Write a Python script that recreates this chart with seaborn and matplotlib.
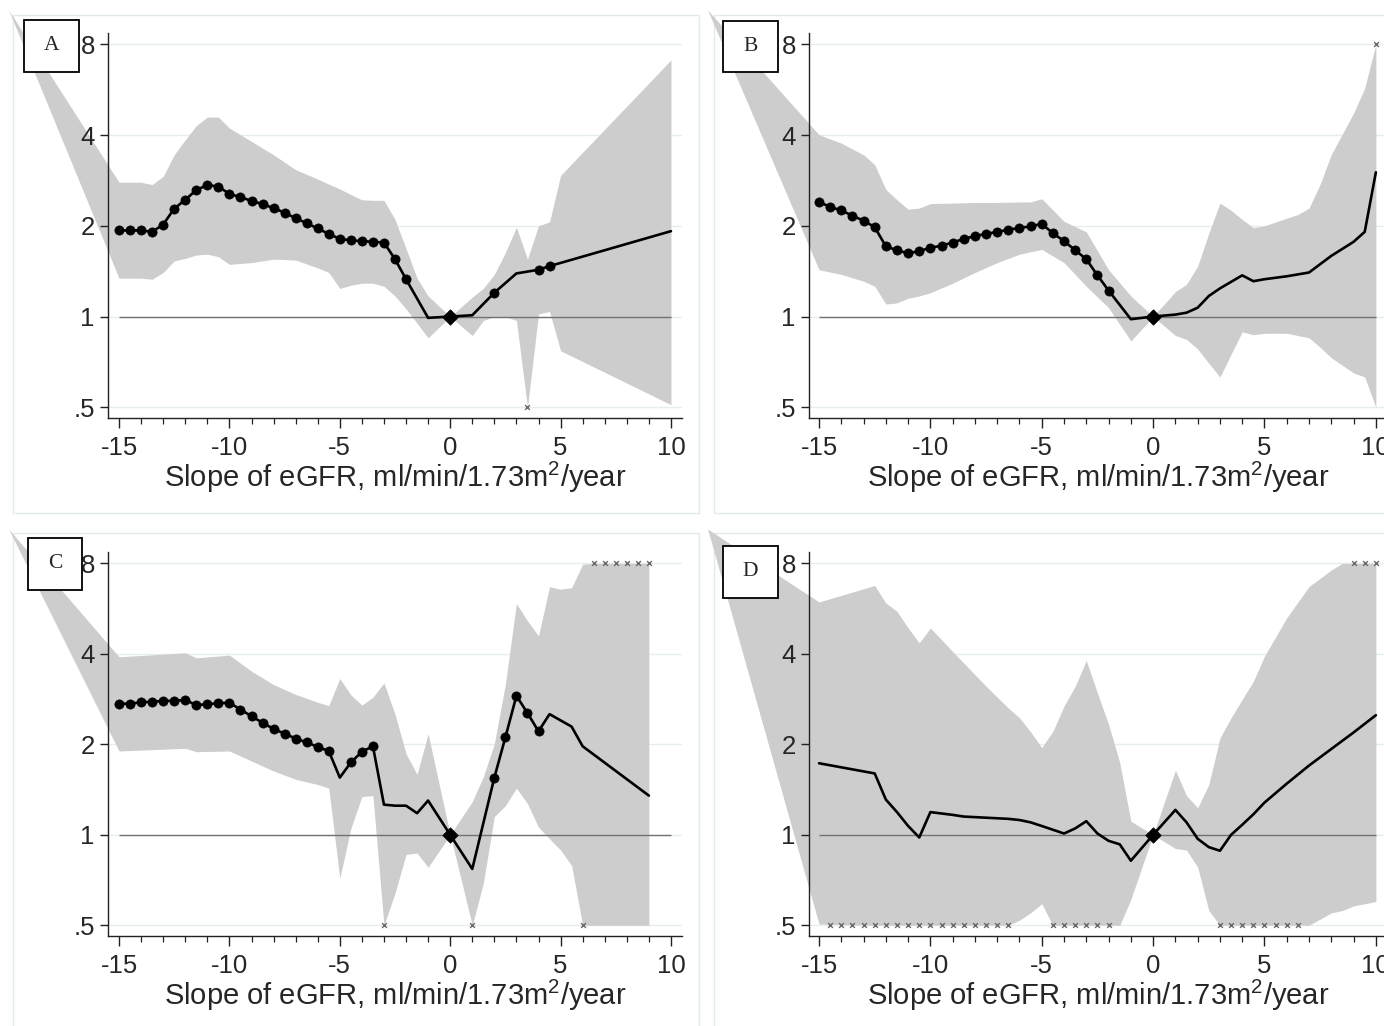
import matplotlib
matplotlib.use('Agg')
import matplotlib.pyplot as plt
import seaborn as sns
from matplotlib.patches import Rectangle
from matplotlib.ticker import FixedLocator, NullLocator, MultipleLocator

# ---------------- data ----------------
panel_labels = ['A', 'B', 'C', 'D']
x_ticks = [-15, -10, -5, 0, 5, 10]
x_ticklabels = ['-15', '-10', '-5', '0', '5', '10']
y_ticks = [0.5, 1, 2, 4, 8]
y_ticklabels = ['.5', '1', '2', '4', '8']
x_label = 'Slope of eGFR, ml/min/1.73m$^2$/year'
ref_x = 0.0
ref_y = 1.0

# Panel A
A_line_x = [-15, -14.5, -14, -13.5, -13, -12.5, -12, -11.5, -11, -10.5, -10, -9.5, -9, -8.5,
            -8, -7.5, -7, -6.5, -6, -5.5, -5, -4.5, -4, -3.5, -3, -2.5, -2,
            -1, 0, 1, 2, 3, 4, 4.5, 10]
A_line_y = [1.93, 1.93, 1.93, 1.91, 2.02, 2.28, 2.44, 2.63, 2.73, 2.70, 2.55, 2.49, 2.42, 2.36,
            2.29, 2.21, 2.12, 2.04, 1.96, 1.88, 1.81, 1.79, 1.78, 1.77, 1.76, 1.55, 1.33,
            0.99, 1.00, 1.01, 1.20, 1.39, 1.43, 1.47, 1.92]
A_dot_x = [-15, -14.5, -14, -13.5, -13, -12.5, -12, -11.5, -11, -10.5, -10, -9.5, -9, -8.5,
           -8, -7.5, -7, -6.5, -6, -5.5, -5, -4.5, -4, -3.5, -3, -2.5, -2, 2, 4, 4.5]
A_ci_x = [-20, -15, -14, -13.5, -13, -12.5, -12, -11.5, -11, -10.5, -10, -9, -8, -7, -6, -5.5,
          -5, -4.5, -4, -3.5, -3, -2.5, -2, -1.5, -1, 0, 1, 1.5, 2, 2.5, 3, 3.5, 4, 4.5, 5, 10]
A_ci_hi = [10.4, 2.79, 2.79, 2.74, 2.92, 3.44, 3.86, 4.30, 4.59, 4.59, 4.22, 3.81, 3.44, 3.07, 2.86, 2.75,
           2.65, 2.54, 2.44, 2.43, 2.43, 2.10, 1.68, 1.34, 1.17, 1.00, 1.16, 1.24, 1.38, 1.63, 1.98, 1.55,
           2.00, 2.06, 2.94, 7.10]
A_ci_lo = [10.4, 1.34, 1.34, 1.33, 1.40, 1.53, 1.56, 1.60, 1.61, 1.58, 1.49, 1.51, 1.55, 1.54, 1.45, 1.40,
           1.24, 1.27, 1.29, 1.29, 1.26, 1.17, 1.06, 0.95, 0.85, 1.00, 0.865, 0.97, 1.00, 1.00, 0.97, 0.50,
           1.02, 1.04, 0.77, 0.51]
A_cap_x = [3.5]
A_cap_y = [0.5]

# Panel B
B_line_x = [-15, -14.5, -14, -13.5, -13, -12.5, -12, -11.5, -11, -10.5, -10, -9.5, -9, -8.5,
            -8, -7.5, -7, -6.5, -6, -5.5, -5, -4.5, -4, -3.5, -3, -2.5, -2,
            -1, 0, 1, 1.5, 2, 2.5, 3, 4, 4.5, 5, 6, 7, 8, 9, 9.5, 10]
B_line_y = [2.40, 2.31, 2.25, 2.16, 2.08, 1.98, 1.71, 1.66, 1.62, 1.65, 1.69, 1.72, 1.76, 1.81,
            1.85, 1.88, 1.91, 1.94, 1.97, 1.99, 2.03, 1.89, 1.78, 1.66, 1.55, 1.37, 1.22,
            0.98, 1.00, 1.015, 1.03, 1.07, 1.17, 1.24, 1.37, 1.31, 1.33, 1.36, 1.40, 1.59, 1.77, 1.91, 3.01]
B_dot_x = [-15, -14.5, -14, -13.5, -13, -12.5, -12, -11.5, -11, -10.5, -10, -9.5, -9, -8.5,
           -8, -7.5, -7, -6.5, -6, -5.5, -5, -4.5, -4, -3.5, -3, -2.5, -2]
B_ci_x = [-20, -15, -14, -13, -12.5, -12, -11.5, -11, -10.5, -10, -9, -8, -7, -6, -5.5, -5, -4, -3,
          -2, -1, 0, 1, 1.5, 2, 2.5, 3, 3.5, 4, 4.5, 5, 6, 6.5, 7, 7.5, 8, 9, 9.5, 10]
B_ci_hi = [10.4, 4.01, 3.76, 3.44, 3.19, 2.64, 2.44, 2.27, 2.29, 2.37, 2.38, 2.39, 2.39, 2.40, 2.40, 2.46, 2.07, 1.91,
           1.43, 1.17, 1.00, 1.21, 1.28, 1.47, 1.89, 2.38, 2.25, 2.10, 1.97, 2.00, 2.12, 2.18, 2.29, 2.75, 3.45, 4.73, 5.73, 8.0]
B_ci_lo = [10.4, 1.43, 1.38, 1.31, 1.26, 1.10, 1.11, 1.15, 1.17, 1.20, 1.29, 1.40, 1.51, 1.61, 1.64, 1.67, 1.51, 1.26,
           1.07, 0.83, 1.00, 0.865, 0.84, 0.78, 0.70, 0.63, 0.75, 0.89, 0.87, 0.88, 0.88, 0.865, 0.85, 0.79, 0.73, 0.65, 0.63, 0.50]
B_cap_x = [10]
B_cap_y = [8]

# Panel C
C_line_x = [-15, -14.5, -14, -13.5, -13, -12.5, -12, -11.5, -11, -10.5, -10, -9.5, -9, -8.5,
            -8, -7.5, -7, -6.5, -6, -5.5, -5, -4.5, -4, -3.5, -3, -2.5, -2, -1.5, -1,
            0, 1, 2, 2.5, 3, 3.5, 4, 4.5, 5.5, 6, 9]
C_line_y = [2.73, 2.73, 2.76, 2.77, 2.79, 2.79, 2.81, 2.70, 2.72, 2.74, 2.75, 2.61, 2.48, 2.36,
            2.25, 2.17, 2.09, 2.03, 1.96, 1.90, 1.55, 1.74, 1.89, 1.97, 1.26, 1.25, 1.25, 1.18, 1.30,
            1.00, 0.77, 1.55, 2.11, 2.90, 2.54, 2.21, 2.52, 2.29, 1.97, 1.35]
C_dot_x = [-15, -14.5, -14, -13.5, -13, -12.5, -12, -11.5, -11, -10.5, -10, -9.5, -9, -8.5,
           -8, -7.5, -7, -6.5, -6, -5.5, -4.5, -4, -3.5, 2, 2.5, 3, 3.5, 4]
C_ci_x = [-20, -15, -12, -11.5, -10, -9, -8, -7, -6, -5.5, -5, -4.5, -4, -3.5, -3, -2.5, -2, -1.5, -1,
          0, 1, 1.5, 2, 2.5, 3, 3.5, 4, 4.5, 5, 5.5, 6, 6.5, 9]
C_ci_hi = [10.4, 3.91, 4.03, 3.88, 3.96, 3.50, 3.16, 2.93, 2.76, 2.69, 3.31, 2.92, 2.70, 2.87, 3.20, 2.52, 1.86, 1.59, 2.17,
           1.00, 1.29, 1.56, 2.01, 3.17, 5.88, 5.15, 4.59, 6.69, 6.56, 6.64, 7.94, 8.0, 8.0]
C_ci_lo = [10.4, 1.90, 1.94, 1.89, 1.90, 1.76, 1.63, 1.53, 1.47, 1.43, 0.716, 1.05, 1.34, 1.35, 0.50, 0.64, 0.86, 0.87, 0.78,
           1.00, 0.50, 0.69, 1.15, 1.25, 1.43, 1.27, 1.06, 0.97, 0.89, 0.79, 0.50, 0.50, 0.50]
C_cap_x = [6.5, 7, 7.5, 8, 8.5, 9, -3, 1, 6]
C_cap_y = [8, 8, 8, 8, 8, 8, 0.5, 0.5, 0.5]

# Panel D
D_line_x = [-15, -12.5, -12, -11.5, -11, -10.5, -10, -9, -8.5, -7.5, -6.5, -6, -5.5, -5, -4,
            -3.5, -3, -2.5, -2, -1.5, -1, 0, 1, 1.5, 2, 2.5, 3, 3.5, 4, 4.5, 5, 6, 7, 8, 9, 10]
D_line_y = [1.73, 1.60, 1.31, 1.19, 1.07, 0.98, 1.19, 1.165, 1.15, 1.14, 1.13, 1.12, 1.10, 1.07, 1.01,
            1.05, 1.11, 1.01, 0.955, 0.93, 0.82, 1.00, 1.21, 1.10, 0.97, 0.91, 0.885, 1.00, 1.08, 1.17,
            1.28, 1.48, 1.70, 1.93, 2.19, 2.50]
D_dot_x = []
D_ci_x = [-20, -15, -12.5, -12, -11.5, -11, -10.5, -10, -9, -7.5, -6.5, -6, -5.5, -5, -4.5, -4, -3.5, -3,
          -2.5, -2, -1.5, -1, 0, 1, 1.5, 2, 2.5, 3, 3.5, 4, 4.5, 5, 6, 7, 8, 8.5, 9, 10]
D_ci_hi = [10.4, 5.95, 6.75, 5.90, 5.54, 4.88, 4.35, 4.88, 4.07, 3.12, 2.64, 2.45, 2.20, 1.95, 2.21, 2.68, 3.12, 3.80,
           2.96, 2.33, 1.74, 1.11, 1.00, 1.64, 1.35, 1.23, 1.47, 2.10, 2.45, 2.82, 3.24, 3.93, 5.27, 6.70, 7.6, 8.0, 8.0, 8.0]
D_ci_lo = [10.4, 0.505, 0.5, 0.5, 0.5, 0.5, 0.5, 0.5, 0.5, 0.5, 0.5, 0.52, 0.55, 0.59, 0.5, 0.5, 0.5, 0.5,
           0.5, 0.5, 0.5, 0.61, 1.00, 0.90, 0.89, 0.78, 0.56, 0.5, 0.5, 0.5, 0.5, 0.5, 0.5, 0.5, 0.55, 0.56, 0.58, 0.60]
D_cap_x = [-14.5, -14, -13.5, -13, -12.5, -12, -11.5, -11, -10.5, -10, -9.5, -9, -8.5, -8, -7.5, -7, -6.5,
           -4.5, -4, -3.5, -3, -2.5, -2,
           3, 3.5, 4, 4.5, 5, 5.5, 6, 6.5,
           9, 9.5, 10]
D_cap_y = [0.5] * 17 + [0.5] * 6 + [0.5] * 8 + [8, 8, 8]

panels = {
    'A': dict(line_x=A_line_x, line_y=A_line_y, dot_x=A_dot_x, ci_x=A_ci_x, ci_lo=A_ci_lo, ci_hi=A_ci_hi, cap_x=A_cap_x, cap_y=A_cap_y),
    'B': dict(line_x=B_line_x, line_y=B_line_y, dot_x=B_dot_x, ci_x=B_ci_x, ci_lo=B_ci_lo, ci_hi=B_ci_hi, cap_x=B_cap_x, cap_y=B_cap_y),
    'C': dict(line_x=C_line_x, line_y=C_line_y, dot_x=C_dot_x, ci_x=C_ci_x, ci_lo=C_ci_lo, ci_hi=C_ci_hi, cap_x=C_cap_x, cap_y=C_cap_y),
    'D': dict(line_x=D_line_x, line_y=D_line_y, dot_x=D_dot_x, ci_x=D_ci_x, ci_lo=D_ci_lo, ci_hi=D_ci_hi, cap_x=D_cap_x, cap_y=D_cap_y),
}

# ---------------- style ----------------
sns.set_theme(style='white')
plt.rcParams['font.family'] = ['Liberation Sans', 'DejaVu Sans']
plt.rcParams['mathtext.fontset'] = 'custom'
plt.rcParams['mathtext.rm'] = 'Liberation Sans'
plt.rcParams['mathtext.it'] = 'Liberation Sans'
plt.rcParams['axes.unicode_minus'] = False

W, H = 1384, 1026
fig = plt.figure(figsize=(W / 100, H / 100), dpi=100)
fig.patch.set_facecolor('white')

band_color = '#cdcdcd'
grid_color = '#e5edf0'
border_color = '#e2eaee'

# layout in pixels (left, top, right, bottom) for axes
axes_px = {
    'A': (108, 33, 682, 418),
    'B': (809, 33, 1387, 418),
    'C': (108, 552, 682, 936),
    'D': (809, 552, 1387, 936),
}
xlims = {'A': (-15.5, 10.5), 'B': (-15.45, 10.5), 'C': (-15.5, 10.5), 'D': (-15.45, 10.5)}
panel_px = {
    'A': (13, 15, 699, 513),
    'B': (714, 15, 1400, 513),
    'C': (13, 533, 699, 1040),
    'D': (714, 533, 1400, 1040),
}
box_px = {
    'A': (24, 20, 79, 72),
    'B': (723, 21, 778, 72),
    'C': (28, 538, 82, 590),
    'D': (723, 546, 778, 598),
}

def fig_rect(l, t, r, b):
    return (l / W, 1 - b / H, (r - l) / W, (b - t) / H)

for key in panel_labels:
    l, t, r, b = panel_px[key]
    x0, y0, w, h = fig_rect(l, t, r, b)
    fig.add_artist(Rectangle((x0, y0), w, h, transform=fig.transFigure, fill=False,
                             edgecolor=border_color, lw=1.0, zorder=-1))

for key in panel_labels:
    d = panels[key]
    ax = fig.add_axes(fig_rect(*axes_px[key]))
    ax.set_facecolor('none')
    ax.set_yscale('log', base=2)

    for gy in y_ticks:
        ax.axhline(gy, color=grid_color, lw=1.0, zorder=0)

    ax.fill_between(d['ci_x'], d['ci_lo'], d['ci_hi'], color=band_color, lw=0,
                    zorder=1, clip_on=False)
    ax.hlines(ref_y, x_ticks[0], x_ticks[-1], color='#727272', lw=1.0, zorder=2)

    sns.lineplot(x=d['line_x'], y=d['line_y'], ax=ax, color='black', lw=1.9,
                 estimator=None, sort=False, zorder=3)
    lookup = dict(zip(d['line_x'], d['line_y']))
    if d['dot_x']:
        dot_y = [lookup[v] for v in d['dot_x']]
        sns.scatterplot(x=d['dot_x'], y=dot_y, ax=ax, color='black', edgecolor='black',
                        s=44, marker='o', zorder=4, linewidth=0.5)
    sns.scatterplot(x=[ref_x], y=[ref_y], ax=ax, color='black', edgecolor='black',
                    marker='D', s=62, zorder=5, linewidth=0.5)
    if d['cap_x']:
        sns.scatterplot(x=d['cap_x'], y=d['cap_y'], ax=ax, color='#6a6a6a', marker='x',
                        s=12, linewidth=1.0, zorder=4, clip_on=False)

    ax.set_xlim(*xlims[key])
    ax.set_ylim(0.4607, 8.724)
    ax.xaxis.set_major_locator(FixedLocator(x_ticks))
    ax.set_xticklabels(x_ticklabels)
    ax.xaxis.set_minor_locator(MultipleLocator(1))
    ax.yaxis.set_major_locator(FixedLocator(y_ticks))
    ax.yaxis.set_minor_locator(NullLocator())
    ax.set_yticklabels(y_ticklabels)

    ax.tick_params(axis='x', which='major', direction='out', length=7, width=1.0,
                   color='#222222', labelsize=18.5, pad=6, bottom=True)
    ax.tick_params(axis='x', which='minor', direction='out', length=4, width=0.9,
                   color='#222222', bottom=True)
    ax.tick_params(axis='y', which='major', direction='out', length=6, width=1.0,
                   color='#222222', labelsize=18.5, pad=3.5, left=True)
    for s in ['top', 'right']:
        ax.spines[s].set_visible(False)
    for s in ['left', 'bottom']:
        ax.spines[s].set_color('#222222')
        ax.spines[s].set_linewidth(1.0)
        ax.spines[s].set_zorder(6)
    ax.set_axisbelow(False)
    ax.set_xlabel(x_label, fontsize=21, labelpad=0)
    ax.set_ylabel('')
    ax.grid(False)

    bl, bt, br, bb = box_px[key]
    x0, y0, w, h = fig_rect(bl, bt, br, bb)
    fig.add_artist(Rectangle((x0, y0), w, h, transform=fig.transFigure, facecolor='white',
                             edgecolor='black', lw=1.3, zorder=10))
    fig.text(x0 + w / 2, y0 + h / 2, key, ha='center', va='center', fontsize=15.5,
             family=['Liberation Serif', 'DejaVu Serif'], zorder=11)

fig.savefig('out.png', dpi=100, facecolor='white')
